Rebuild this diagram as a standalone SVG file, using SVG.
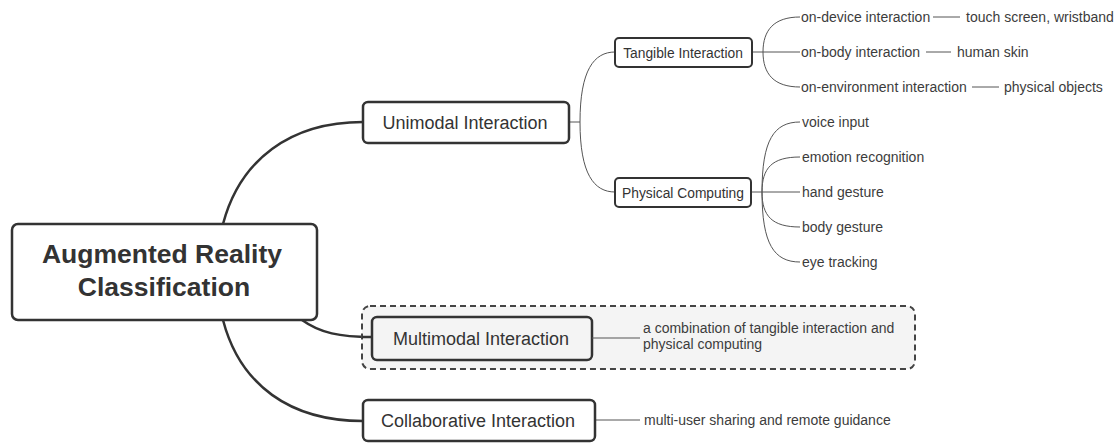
<svg xmlns="http://www.w3.org/2000/svg" width="1114" height="443" viewBox="0 0 1114 443">
<style>
text{font-family:"Liberation Sans",Arial,sans-serif;fill:#333}
.root{font-size:26.5px;font-weight:bold;text-anchor:middle}
.l1{font-size:18px;text-anchor:middle}
.l2{font-size:13.8px;text-anchor:middle}
.leaf{font-size:14px;fill:#3c3c3c}
.box{fill:#fff;stroke:#333}
.thick{fill:none;stroke:#333;stroke-width:2.5}
.thin{fill:none;stroke:#555;stroke-width:1}
</style>
<rect width="1114" height="443" fill="#fff"/>
<g id="connectors">
<path class="thick" d="M223,224 C240,160 290,122 363,122"/>
<path class="thick" d="M223,320 C240,385 290,421 363,421"/>
<path class="thick" d="M302,320 C320,333 340,337 372,337"/>
<path class="thin" d="M569,122 H580 M580,122 C580,70 594,52 615,52 M580,122 C580,174 594,192 615,192"/>
<path class="thin" d="M752,52 H763 M763,52 C763,30 774,17 800,17 M763,52 H800 M763,52 C763,74 774,87 800,87"/>
<path class="thin" d="M751,192 H762 M762,192 C762,140 774,122 800,122 M762,192 C762,168 772,157 800,157 M762,192 H800 M762,192 C762,216 772,227 800,227 M762,192 C762,244 774,262 800,262"/>
<path class="thin" d="M933,17 H960 M926,52 H951 M972,87 H999"/>
<path class="thin" d="M592,338 H640 M595,420 H640"/>
</g>
<g id="root">
<rect class="box" x="12" y="224" width="305" height="96" rx="6" stroke-width="2.5"/>
<text class="root" x="162" y="263">Augmented Reality</text>
<text class="root" x="164" y="296">Classification</text>
</g>
<g id="unimodal">
<rect class="box" x="363" y="102" width="206" height="41" rx="5" stroke-width="2.5"/>
<text class="l1" x="465" y="128.5">Unimodal Interaction</text>
</g>
<g id="tangible">
<rect class="box" x="615" y="38" width="137" height="29" rx="4" stroke-width="2"/>
<text class="l2" x="683" y="57.5">Tangible Interaction</text>
</g>
<g id="physical">
<rect class="box" x="615" y="178" width="136" height="29" rx="4" stroke-width="2"/>
<text class="l2" x="683" y="197.5">Physical Computing</text>
</g>
<g id="tangible-leaves">
<text class="leaf" x="801" y="22">on-device interaction</text>
<text class="leaf" x="966" y="22">touch screen, wristband</text>
<text class="leaf" x="801" y="57">on-body interaction</text>
<text class="leaf" x="957" y="57">human skin</text>
<text class="leaf" x="801" y="92">on-environment interaction</text>
<text class="leaf" x="1004" y="92">physical objects</text>
</g>
<g id="physical-leaves">
<text class="leaf" x="802" y="127">voice input</text>
<text class="leaf" x="802" y="162">emotion recognition</text>
<text class="leaf" x="802" y="197">hand gesture</text>
<text class="leaf" x="802" y="232">body gesture</text>
<text class="leaf" x="802" y="267">eye tracking</text>
</g>
<g id="multimodal">
<rect x="362" y="306" width="553" height="63" rx="8" fill="#f4f4f4" stroke="#444" stroke-width="2" stroke-dasharray="6,4"/>
<path class="thick" d="M362,337 H372"/>
<rect x="372" y="317" width="220" height="43" rx="5" fill="#f4f4f4" stroke="#333" stroke-width="2.5"/>
<text class="l1" x="481" y="344.5">Multimodal Interaction</text>
<path class="thin" d="M592,338 H640"/>
<text class="leaf" x="643" y="333">a combination of tangible interaction and</text>
<text class="leaf" x="643" y="349">physical computing</text>
</g>
<g id="collaborative">
<rect class="box" x="363" y="400" width="232" height="41" rx="5" stroke-width="2.5"/>
<text class="l1" x="478" y="426.5">Collaborative Interaction</text>
<text class="leaf" x="644" y="425">multi-user sharing and remote guidance</text>
</g>
</svg>
